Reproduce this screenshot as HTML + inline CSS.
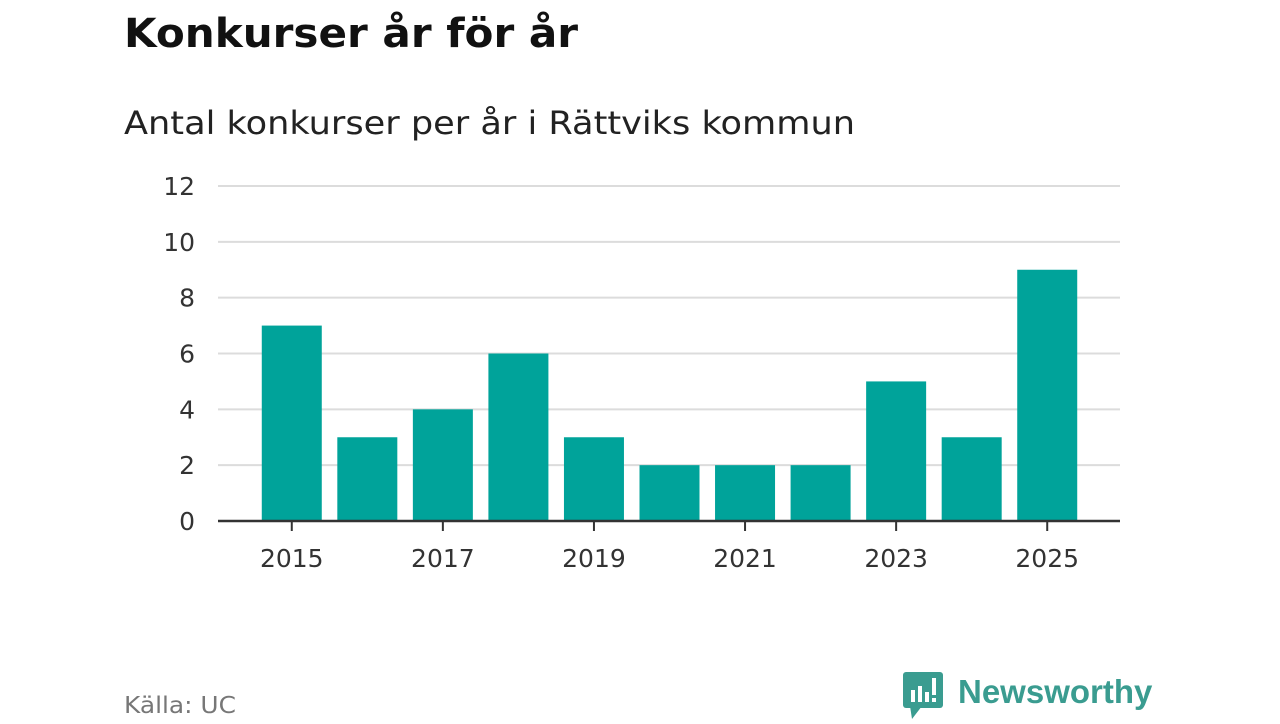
<!DOCTYPE html>
<html><head><meta charset="utf-8"><style>
body{margin:0;width:1280px;height:720px;background:#fff;overflow:hidden;font-family:"DejaVu Sans","Liberation Sans",sans-serif;}
</style></head><body>
<svg width="1280" height="720">
<text x="124" y="47" font-size="40" font-weight="bold" fill="#111" textLength="454" lengthAdjust="spacingAndGlyphs">Konkurser år för år</text>
<text x="124" y="134" font-size="32" fill="#222" textLength="731" lengthAdjust="spacingAndGlyphs">Antal konkurser per år i Rättviks kommun</text>
<g id="grid"></g><g id="bars"></g><g id="axes"></g>
<text x="124" y="713" font-size="23" fill="#777" textLength="112" lengthAdjust="spacingAndGlyphs">Källa: UC</text>
<g>
<rect x="903" y="672" width="40" height="36" rx="3" fill="#3a9c90"/>
<polygon points="910,706 922,706 912,719" fill="#3a9c90"/>
<rect x="911" y="690" width="4" height="12" fill="#fff"/>
<rect x="918" y="686" width="4" height="16" fill="#fff"/>
<rect x="925" y="692" width="4" height="10" fill="#fff"/>
<rect x="932" y="678" width="4" height="17" fill="#fff"/>
<rect x="932" y="698" width="4" height="4" fill="#fff"/>
<text x="958" y="703" font-size="33" font-weight="bold" fill="#3a9c90" font-family="Liberation Sans, sans-serif">Newsworthy</text>
</g>
</svg>
<script>
const years=[2015,2016,2017,2018,2019,2020,2021,2022,2023,2024,2025];
const values=[7,3,4,6,3,2,2,2,5,3,9];
const yTicks=[0,2,4,6,8,10,12];
const NS="http://www.w3.org/2000/svg";
const x0=254,x1=1085,y0=521,yTop=186,yMax=12;
const step=(x1-x0)/years.length;
const xc=i=>x0+step*(i+0.5);
const y=v=>y0-(y0-yTop)*v/yMax;
function mk(tag,attrs,parent){const e=document.createElementNS(NS,tag);for(const k in attrs)e.setAttribute(k,attrs[k]);document.getElementById(parent).appendChild(e);return e;}
yTicks.forEach(t=>{
 if(t>0){const l=mk('line',{x1:218,x2:1120,y1:y(t),y2:y(t),stroke:'#dcdcdc','stroke-width':2},'grid');
 
 }
 const tx=mk('text',{x:195,y:y(t)+9,'font-size':25,fill:'#333','text-anchor':'end'},'axes');
 tx.textContent=t;
 
 
});
values.forEach((v,i)=>{
 const r=mk('rect',{x:xc(i)-30,y:y(v),width:60,height:y0-y(v),fill:'#00a39a'},'bars');
 
 
});
const base=mk('line',{x1:218,x2:1120,y1:y0,y2:y0,stroke:'#333','stroke-width':2.5},'axes');


years.forEach((yr,i)=>{
 if(i%2)return;
 const tk=mk('line',{x1:xc(i),x2:xc(i),y1:y0,y2:y0+10,stroke:'#333','stroke-width':2},'axes');
 
 
 const tx=mk('text',{x:xc(i),y:567,'font-size':25,fill:'#333','text-anchor':'middle'},'axes');
 tx.textContent=yr;
 
 
});
</script>
</body></html>
